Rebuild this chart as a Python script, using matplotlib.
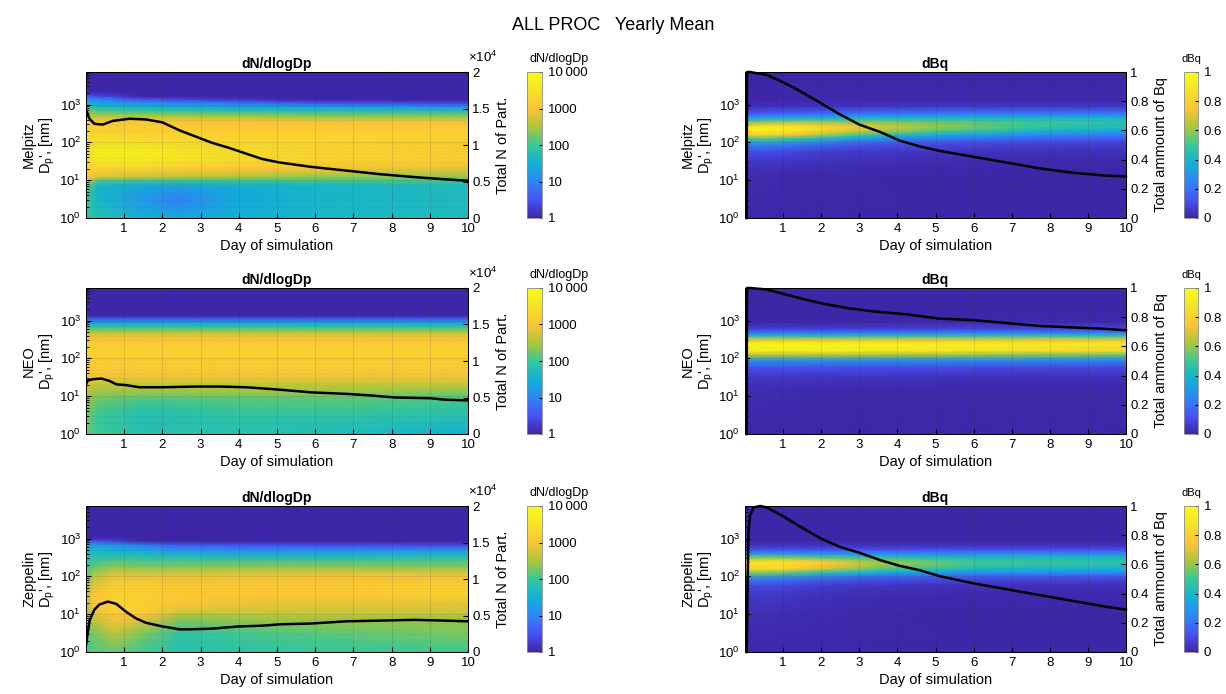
"""Yearly mean size distributions and totals for the three sites (dN/dlogDp and dBq)."""

import numpy as np
import matplotlib
matplotlib.use('Agg')
import matplotlib.pyplot as plt
from matplotlib.colors import LinearSegmentedColormap, LogNorm, Normalize
from matplotlib.ticker import FuncFormatter

# ---------------------------------------------------------------- data
SITES = ['Melpitz', 'NEO', 'Zeppelin']

# log10 of particle diameter [nm] where the dN/dlogDp maps were read
LOGDP_N = [0, 0.5, 0.84, 0.97, 1.1, 1.28, 1.5, 1.72, 2.0, 2.25, 2.52, 2.69,
           2.82, 2.94, 3.03, 3.13, 3.22, 3.35, 3.86]

# log10(dN/dlogDp), one row per LOGDP_N entry, one column per time node
MELPITZ_DN_T = [0, 0.3, 1.5, 2.4, 4, 6, 10]
MELPITZ_LOGDN = [
    [1.9, 1.8, 1.5, 1.4, 1.5, 1.6, 1.7],
    [2.0, 1.6, 1.2, 0.95, 1.4, 1.6, 1.7],
    [2.2, 1.6, 1.4, 1.3, 1.5, 1.6, 1.7],
    [3.0, 2.0, 1.9, 1.9, 1.9, 2.0, 2.0],
    [3.1, 2.8, 2.7, 2.6, 2.5, 2.4, 2.4],
    [3.2, 3.2, 3.2, 3.1, 3.0, 2.9, 2.8],
    [3.3, 3.55, 3.55, 3.45, 3.3, 3.2, 3.1],
    [3.3, 3.75, 3.75, 3.6, 3.4, 3.3, 3.2],
    [3.3, 3.5, 3.45, 3.35, 3.3, 3.25, 3.2],
    [3.3, 3.25, 3.2, 3.2, 3.2, 3.2, 3.2],
    [3.1, 3.1, 3.1, 3.05, 3.0, 3.0, 3.0],
    [2.7, 2.6, 2.6, 2.55, 2.5, 2.4, 2.4],
    [2.4, 2.1, 2.0, 2.0, 1.9, 1.85, 1.8],
    [2.0, 1.7, 1.6, 1.5, 1.4, 1.3, 1.2],
    [1.6, 1.4, 1.2, 1.1, 0.9, 0.6, 0.4],
    [1.2, 1.0, 0.5, 0.4, 0.2, 0.0, -0.2],
    [0.6, 0.4, 0.0, -0.2, -0.3, -0.4, -0.5],
    [-0.5, -0.5, -0.5, -0.5, -0.5, -0.5, -0.5],
    [-0.5, -0.5, -0.5, -0.5, -0.5, -0.5, -0.5],
]

NEO_DN_T = [0, 0.3, 1.5, 4, 7, 10]
NEO_LOGDN = [
    [2.2, 2.0, 1.8, 1.8, 1.7, 1.5],
    [2.3, 2.0, 1.75, 1.9, 1.9, 1.8],
    [2.4, 2.2, 2.0, 2.1, 2.1, 2.0],
    [2.5, 2.3, 2.2, 2.2, 2.2, 2.1],
    [2.6, 2.4, 2.4, 2.4, 2.4, 2.3],
    [2.7, 2.6, 2.6, 2.6, 2.6, 2.6],
    [2.9, 2.9, 2.9, 2.9, 2.9, 2.9],
    [3.1, 3.1, 3.1, 3.1, 3.1, 3.1],
    [3.2, 3.2, 3.2, 3.2, 3.2, 3.2],
    [3.2, 3.2, 3.2, 3.2, 3.2, 3.2],
    [3.0, 3.0, 3.0, 3.0, 3.0, 3.0],
    [2.6, 2.6, 2.6, 2.6, 2.6, 2.6],
    [2.0, 2.0, 2.0, 2.0, 2.0, 2.0],
    [1.4, 1.4, 1.4, 1.4, 1.4, 1.4],
    [0.7, 0.7, 0.7, 0.7, 0.7, 0.7],
    [0.0, 0.0, 0.0, 0.0, 0.0, 0.0],
    [-0.3, -0.3, -0.3, -0.3, -0.3, -0.3],
    [-0.5, -0.5, -0.5, -0.5, -0.5, -0.5],
    [-0.5, -0.5, -0.5, -0.5, -0.5, -0.5],
]

ZEPPELIN_DN_T = [0, 0.2, 0.75, 1.5, 2.5, 5, 10]
ZEPPELIN_LOGDN = [
    [2.0, 2.1, 2.2, 2.0, 1.8, 1.9, 2.0],
    [2.1, 2.3, 2.6, 2.3, 1.9, 2.1, 2.3],
    [2.4, 2.6, 3.0, 2.8, 2.3, 2.45, 2.4],
    [2.4, 2.8, 3.1, 3.0, 2.5, 2.6, 2.6],
    [2.45, 2.9, 3.2, 3.15, 2.75, 2.7, 2.7],
    [2.5, 3.0, 3.2, 3.2, 3.0, 2.85, 2.85],
    [2.5, 3.0, 3.25, 3.2, 3.1, 3.05, 3.2],
    [2.4, 2.9, 3.2, 3.2, 3.1, 3.1, 3.2],
    [2.2, 2.6, 2.9, 2.9, 2.9, 2.95, 3.0],
    [2.0, 2.2, 2.4, 2.3, 2.35, 2.4, 2.35],
    [1.8, 1.8, 1.85, 1.8, 1.75, 1.7, 1.8],
    [1.6, 1.6, 1.5, 1.4, 1.2, 1.1, 1.2],
    [1.4, 1.3, 1.2, 0.9, 0.6, 0.5, 0.4],
    [0.6, 0.5, 0.3, 0.0, -0.2, -0.3, -0.3],
    [-0.2, -0.3, -0.4, -0.5, -0.5, -0.5, -0.5],
    [-0.5, -0.5, -0.5, -0.5, -0.5, -0.5, -0.5],
    [-0.5, -0.5, -0.5, -0.5, -0.5, -0.5, -0.5],
    [-0.5, -0.5, -0.5, -0.5, -0.5, -0.5, -0.5],
    [-0.5, -0.5, -0.5, -0.5, -0.5, -0.5, -0.5],
]

# log10 of particle diameter [nm] where the dBq maps were read
LOGDP_BQ = [0, 1.2, 1.5, 1.75, 1.95, 2.1, 2.2, 2.3, 2.4, 2.5, 2.6, 2.7, 2.8,
            2.95, 3.1, 3.86]

MELPITZ_BQ_MAP_T = [0, 0.5, 1.5, 3, 5, 7.5, 10]
MELPITZ_DBQ = [
    [0.00, 0.00, 0.00, 0.00, 0.00, 0.00, 0.00],
    [0.02, 0.02, 0.01, 0.01, 0.00, 0.00, 0.00],
    [0.05, 0.05, 0.04, 0.03, 0.02, 0.01, 0.01],
    [0.10, 0.11, 0.08, 0.05, 0.04, 0.03, 0.03],
    [0.25, 0.27, 0.22, 0.14, 0.10, 0.08, 0.07],
    [0.50, 0.52, 0.45, 0.30, 0.22, 0.16, 0.14],
    [0.75, 0.78, 0.70, 0.50, 0.36, 0.27, 0.23],
    [0.90, 0.95, 0.88, 0.68, 0.52, 0.40, 0.33],
    [0.88, 0.93, 0.88, 0.72, 0.60, 0.48, 0.42],
    [0.65, 0.70, 0.72, 0.65, 0.58, 0.50, 0.45],
    [0.40, 0.45, 0.48, 0.48, 0.48, 0.45, 0.43],
    [0.22, 0.25, 0.28, 0.30, 0.32, 0.32, 0.32],
    [0.10, 0.12, 0.14, 0.16, 0.18, 0.18, 0.18],
    [0.03, 0.04, 0.04, 0.05, 0.06, 0.06, 0.06],
    [0.00, 0.00, 0.01, 0.01, 0.01, 0.01, 0.01],
    [0.00, 0.00, 0.00, 0.00, 0.00, 0.00, 0.00],
]

NEO_BQ_MAP_T = [0, 0.5, 3, 6, 10]
NEO_DBQ = [
    [0.00, 0.00, 0.00, 0.00, 0.00],
    [0.02, 0.02, 0.01, 0.01, 0.01],
    [0.05, 0.05, 0.04, 0.03, 0.03],
    [0.12, 0.12, 0.11, 0.10, 0.09],
    [0.30, 0.30, 0.29, 0.27, 0.25],
    [0.65, 0.65, 0.63, 0.60, 0.55],
    [0.90, 0.90, 0.89, 0.86, 0.80],
    [0.97, 0.97, 0.96, 0.93, 0.87],
    [0.93, 0.93, 0.92, 0.90, 0.86],
    [0.70, 0.70, 0.70, 0.71, 0.70],
    [0.42, 0.42, 0.43, 0.45, 0.46],
    [0.18, 0.18, 0.19, 0.20, 0.21],
    [0.07, 0.07, 0.07, 0.08, 0.08],
    [0.01, 0.01, 0.01, 0.02, 0.02],
    [0.00, 0.00, 0.00, 0.00, 0.00],
    [0.00, 0.00, 0.00, 0.00, 0.00],
]

ZEPPELIN_BQ_MAP_T = [0, 0.3, 1.0, 2.0, 3.5, 6, 10]
ZEPPELIN_DBQ = [
    [0.00, 0.00, 0.00, 0.00, 0.00, 0.00, 0.00],
    [0.03, 0.04, 0.03, 0.02, 0.01, 0.00, 0.00],
    [0.05, 0.06, 0.05, 0.03, 0.02, 0.01, 0.01],
    [0.09, 0.10, 0.09, 0.06, 0.04, 0.03, 0.03],
    [0.24, 0.26, 0.24, 0.18, 0.14, 0.11, 0.10],
    [0.55, 0.58, 0.55, 0.45, 0.36, 0.28, 0.25],
    [0.78, 0.82, 0.80, 0.68, 0.52, 0.40, 0.36],
    [0.86, 0.90, 0.88, 0.78, 0.62, 0.50, 0.45],
    [0.80, 0.84, 0.83, 0.74, 0.60, 0.50, 0.46],
    [0.55, 0.58, 0.58, 0.53, 0.46, 0.42, 0.40],
    [0.30, 0.32, 0.32, 0.30, 0.28, 0.27, 0.27],
    [0.13, 0.14, 0.14, 0.14, 0.13, 0.13, 0.13],
    [0.05, 0.05, 0.05, 0.05, 0.05, 0.05, 0.05],
    [0.01, 0.01, 0.01, 0.01, 0.01, 0.01, 0.01],
    [0.00, 0.00, 0.00, 0.00, 0.00, 0.00, 0.00],
    [0.00, 0.00, 0.00, 0.00, 0.00, 0.00, 0.00],
]

# total number of particles (right axis of the dN/dlogDp panels)
MELPITZ_N_T = [0, 0.09, 0.22, 0.44, 0.7, 1.14, 1.57, 2.0, 2.45, 2.9, 3.3,
               3.75, 4.2, 4.6, 5.07, 5.9, 6.8, 7.7, 8.6, 9.4, 10]
MELPITZ_N = [14800, 13600, 12900, 12800, 13300, 13600, 13500, 13100, 12000,
             11100, 10300, 9600, 8800, 8100, 7600, 7000, 6500, 6000, 5600,
             5300, 5100]
NEO_N_T = [0, 0.04, 0.17, 0.4, 0.6, 0.8, 1.05, 1.4, 2.0, 2.9, 3.5, 4.2, 5.0,
           5.9, 6.8, 7.4, 8.1, 9.0, 9.4, 10]
NEO_N = [6800, 7300, 7500, 7600, 7300, 6800, 6700, 6400, 6400, 6500, 6500,
         6400, 6100, 5700, 5500, 5300, 5000, 4900, 4700, 4600]
ZEPPELIN_N_T = [0, 0.04, 0.1, 0.22, 0.35, 0.57, 0.79, 1.05, 1.31, 1.57, 2.0,
                2.45, 2.7, 3.3, 4.0, 4.6, 5.1, 5.9, 6.8, 7.7, 8.6, 9.4, 10]
ZEPPELIN_N = [900, 2500, 4400, 5800, 6500, 6900, 6600, 5500, 4600, 4000, 3500,
              3100, 3100, 3200, 3500, 3600, 3800, 3900, 4200, 4300, 4400, 4300,
              4200]

# total amount of Bq (right axis of the dBq panels)
MELPITZ_BQ_T = [0.04, 0.05, 0.13, 0.57, 1.0, 1.44, 1.97, 2.49, 3.0, 3.54,
                4.06, 4.59, 5.1, 5.98, 6.86, 7.73, 8.6, 9.48, 10]
MELPITZ_BQ = [0, 1.0, 1.0, 0.98, 0.93, 0.87, 0.79, 0.71, 0.64, 0.59, 0.53,
              0.49, 0.46, 0.42, 0.38, 0.34, 0.31, 0.29, 0.285]
NEO_BQ_T = [0.04, 0.05, 0.13, 0.57, 1.0, 1.6, 2.1, 2.75, 3.36, 4.24, 5.1, 6.0,
            6.86, 7.73, 8.6, 9.48, 10]
NEO_BQ = [0, 1.0, 1.0, 0.99, 0.96, 0.92, 0.89, 0.86, 0.84, 0.82, 0.79, 0.78,
          0.76, 0.74, 0.73, 0.72, 0.71]
ZEPPELIN_BQ_T = [0.04, 0.09, 0.13, 0.22, 0.4, 0.57, 1.0, 1.44, 1.97, 2.49,
                 3.0, 3.54, 4.06, 4.59, 5.1, 6.0, 6.86, 7.73, 8.6, 9.48, 10]
ZEPPELIN_BQ = [0, 0.82, 0.93, 0.99, 1.0, 0.99, 0.93, 0.86, 0.78, 0.72, 0.68,
               0.63, 0.59, 0.56, 0.52, 0.47, 0.43, 0.39, 0.35, 0.31, 0.29]

DP_MAX = 10 ** 3.86
DAY_TICKS = list(range(1, 11))
DN_CBAR_TICKS = [1, 10, 100, 1000, 10000]
DN_CBAR_LABELS = ['1', '10', '100', '1000', '10\u2009000']
BQ_TICKS = [0, 0.2, 0.4, 0.6, 0.8, 1]
N_TICKS = [0, 5000, 10000, 15000, 20000]

# MATLAB parula, 9 anchors
PARULA = LinearSegmentedColormap.from_list('parula', [
    (0.2422, 0.1504, 0.6603), (0.2810, 0.3228, 0.9579),
    (0.1786, 0.5289, 0.9682), (0.0689, 0.6948, 0.8394),
    (0.2161, 0.7843, 0.5923), (0.6720, 0.7793, 0.2227),
    (0.9970, 0.7659, 0.2199), (0.9600, 0.8900, 0.1530),
    (0.9769, 0.9839, 0.0805)], N=256)

FS = 9.5


def style_map_axis(ax, site, title):
    """Common look of the heat-map axes (left log axis)."""
    ax.set_yscale('log')
    ax.set_xlim(0, 10)
    ax.set_ylim(1, DP_MAX)
    ax.set_xticks(DAY_TICKS)
    ax.set_yticks([1, 10, 100, 1000])
    ax.tick_params(which='both', direction='in', labelsize=FS)
    ax.tick_params(which='major', length=3.5)
    ax.tick_params(which='minor', length=2)
    ax.set_axisbelow(False)
    ax.grid(True, which='major', color='0.15', alpha=0.15, lw=0.6)
    ax.grid(True, which='minor', axis='y', color='0.15', alpha=0.12,
            lw=0.5, ls=':')
    ax.set_title(title, fontsize=10, fontweight='bold', pad=3)
    ax.set_xlabel('Day of simulation', fontsize=10.5, labelpad=3)
    ax.set_ylabel(site + "\nD$_{\\mathregular{p}}$', [nm]", fontsize=10.5,
                  labelpad=2, linespacing=1.1)


def main():
    plt.rcParams['font.family'] = ['Liberation Sans', 'DejaVu Sans']
    plt.rcParams['mathtext.fontset'] = 'custom'
    plt.rcParams['mathtext.rm'] = 'Liberation Sans'
    plt.rcParams['mathtext.it'] = 'Liberation Sans:italic'
    plt.rcParams['axes.linewidth'] = 0.7

    W, H = 1226, 694
    fig = plt.figure(figsize=(W / 100, H / 100), dpi=100)
    fig.text(0.5, 1 - 25 / H, 'ALL PROC   Yearly Mean', ha='center',
             va='center', fontsize=13)

    row_top = [72, 288, 506]
    ax_h = 146

    dn_maps = [(MELPITZ_DN_T, MELPITZ_LOGDN), (NEO_DN_T, NEO_LOGDN),
               (ZEPPELIN_DN_T, ZEPPELIN_LOGDN)]
    bq_maps = [(MELPITZ_BQ_MAP_T, MELPITZ_DBQ), (NEO_BQ_MAP_T, NEO_DBQ),
               (ZEPPELIN_BQ_MAP_T, ZEPPELIN_DBQ)]
    n_lines = [(MELPITZ_N_T, MELPITZ_N), (NEO_N_T, NEO_N),
               (ZEPPELIN_N_T, ZEPPELIN_N)]
    bq_lines = [(MELPITZ_BQ_T, MELPITZ_BQ), (NEO_BQ_T, NEO_BQ),
                (ZEPPELIN_BQ_T, ZEPPELIN_BQ)]

    for i, site in enumerate(SITES):
        bottom = 1 - (row_top[i] + ax_h) / H
        height = ax_h / H

        # ---- left column: dN/dlogDp
        ax = fig.add_axes([86 / W, bottom, 382 / W, height])
        t, logdn = dn_maps[i]
        X, Y = np.meshgrid(t, 10 ** np.array(LOGDP_N))
        mesh = ax.pcolormesh(X, Y, 10 ** np.array(logdn), shading='gouraud',
                             cmap=PARULA, norm=LogNorm(1, 1e4),
                             rasterized=True)
        style_map_axis(ax, site, 'dN/dlogDp')

        ax2 = ax.twinx()
        ax2.plot(n_lines[i][0], n_lines[i][1], color='k', lw=1.8,
                 solid_joinstyle='round')
        ax2.set_ylim(0, 20000)
        ax2.set_xlim(0, 10)
        ax2.set_yticks(N_TICKS)
        ax2.yaxis.set_major_formatter(FuncFormatter(lambda v, _: f'{v / 1e4:g}'))
        ax2.tick_params(direction='in', length=3.5, labelsize=FS, pad=3)
        ax2.set_ylabel('Total N of Part.', fontsize=10.5, labelpad=4)
        ax2.text(1.0, 1.05, r'$\times\mathregular{10^{4}}$', transform=ax2.transAxes,
                 ha='left', va='bottom', fontsize=FS)

        cax = fig.add_axes([527 / W, bottom, 15 / W, height])
        cb = fig.colorbar(mesh, cax=cax, ticks=DN_CBAR_TICKS)
        cb.ax.minorticks_off()
        cb.ax.set_yticklabels(DN_CBAR_LABELS)
        cb.ax.tick_params(direction='in', length=2, labelsize=FS, pad=4)
        cb.outline.set_linewidth(0.6)
        cb.outline.set_edgecolor('0.55')
        cb.ax.set_title('dN/dlogDp', fontsize=9, pad=7, loc='left', x=0.2)

        # ---- right column: dBq
        bx = fig.add_axes([745 / W, bottom, 381 / W, height])
        t, dbq = bq_maps[i]
        X, Y = np.meshgrid(t, 10 ** np.array(LOGDP_BQ))
        mesh = bx.pcolormesh(X, Y, np.array(dbq), shading='gouraud',
                             cmap=PARULA, norm=Normalize(0, 1),
                             rasterized=True)
        style_map_axis(bx, site, 'dBq')

        bx2 = bx.twinx()
        bx2.plot(bq_lines[i][0], bq_lines[i][1], color='k', lw=1.8,
                 solid_joinstyle='round', clip_on=False)
        bx2.set_ylim(0, 1)
        bx2.set_xlim(0, 10)
        bx2.set_yticks(BQ_TICKS)
        bx2.yaxis.set_major_formatter(FuncFormatter(lambda v, _: f'{v:g}'))
        bx2.tick_params(direction='in', length=3.5, labelsize=FS, pad=3)
        bx2.set_ylabel('Total ammount of Bq', fontsize=10.5, labelpad=4)

        cax = fig.add_axes([1184 / W, bottom, 14 / W, height])
        cb = fig.colorbar(mesh, cax=cax, ticks=BQ_TICKS)
        cb.ax.yaxis.set_major_formatter(FuncFormatter(lambda v, _: f'{v:g}'))
        cb.ax.tick_params(direction='in', length=2, labelsize=FS, pad=4)
        cb.outline.set_linewidth(0.6)
        cb.outline.set_edgecolor('0.55')
        cb.ax.set_title('dBq', fontsize=8, pad=7)

    fig.savefig('out.png', dpi=100)


if __name__ == '__main__':
    main()
